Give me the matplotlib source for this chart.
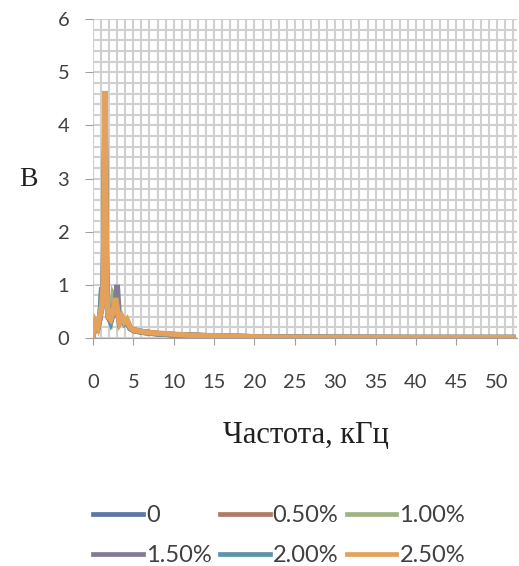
import numpy as np
import matplotlib.pyplot as plt
from matplotlib.lines import Line2D

# frequency grid, kHz
freq_khz = [0, 0.3, 0.6, 0.9, 1.1, 1.3, 1.5, 1.7, 1.9, 2.2, 2.5, 2.8, 3.0, 3.3, 3.6,
            3.9, 4.2, 4.6, 5.0, 6.0, 7.0, 8.0, 10.0, 12.0, 15.0, 20.0, 25.0, 30.0, 40.0, 52.0]

# amplitude, V, per concentration
s_0   = [0.05, 0.25, 0.2, 0.4, 0.95, 0.8, 3.6, 0.7, 0.4, 0.3, 0.45, 0.6, 0.5, 0.3, 0.35,
         0.28, 0.3, 0.18, 0.14, 0.11, 0.09, 0.08, 0.06, 0.05, 0.03, 0.02, 0.01, 0.008, 0.005, 0.005]
s_050 = [0.05, 0.22, 0.18, 0.38, 0.7, 0.85, 3.9, 0.75, 0.38, 0.32, 0.5, 0.65, 0.5, 0.28, 0.36,
         0.27, 0.32, 0.18, 0.14, 0.11, 0.09, 0.08, 0.06, 0.05, 0.03, 0.02, 0.01, 0.008, 0.005, 0.005]
s_100 = [0.05, 0.24, 0.2, 0.42, 0.75, 0.9, 4.1, 0.8, 0.45, 0.35, 0.8, 0.7, 0.55, 0.3, 0.38,
         0.28, 0.33, 0.19, 0.15, 0.12, 0.1, 0.08, 0.06, 0.05, 0.035, 0.02, 0.01, 0.008, 0.005, 0.005]
s_150 = [0.05, 0.23, 0.19, 0.4, 0.7, 0.85, 4.2, 0.8, 0.42, 0.33, 0.55, 0.7, 1.0, 0.32, 0.37,
         0.28, 0.32, 0.19, 0.15, 0.12, 0.1, 0.08, 0.06, 0.05, 0.035, 0.02, 0.01, 0.008, 0.005, 0.005]
s_200 = [0.05, 0.25, 0.2, 0.45, 0.9, 0.9, 4.4, 0.85, 0.5, 0.33, 0.5, 0.6, 0.65, 0.3, 0.36,
         0.28, 0.32, 0.19, 0.15, 0.12, 0.1, 0.08, 0.06, 0.05, 0.035, 0.02, 0.01, 0.008, 0.005, 0.005]
s_250 = [0.05, 0.3, 0.2, 0.45, 0.6, 1.0, 4.65, 0.9, 0.4, 0.35, 0.5, 0.75, 0.55, 0.3, 0.4,
         0.3, 0.35, 0.2, 0.15, 0.12, 0.1, 0.09, 0.07, 0.05, 0.04, 0.02, 0.01, 0.008, 0.005, 0.005]

series = [s_0, s_050, s_100, s_150, s_200, s_250]
names = ["0", "0.50%", "1.00%", "1.50%", "2.00%", "2.50%"]
colors = ["#5a78a6", "#b27a66", "#a3b483", "#857a95", "#5c93ab", "#e3a15c"]

x_ticks = list(range(0, 55, 5))
y_ticks = list(range(0, 7))

fig = plt.figure(figsize=(5.19, 5.66), dpi=100)
ax = fig.add_axes([0.179, 0.403, 0.817, 0.563])

for s, c, n in zip(series, colors, names):
    ax.plot(freq_khz, s, color=c, lw=4, label=n, solid_joinstyle="miter")

ax.set_xlim(0, 52.5)
ax.set_ylim(0, 6)
ax.set_xticks(x_ticks)
ax.set_yticks(y_ticks)
ax.set_xticks(np.arange(0, 53, 1), minor=True)
ax.set_yticks(np.arange(0, 6.01, 0.2), minor=True)
ax.grid(True, which="both", color="#d0d0d0", lw=1.5)
ax.set_axisbelow(True)
ax.tick_params(which="minor", length=0)

for sp in ["top", "right", "left"]:
    ax.spines[sp].set_visible(False)
ax.spines["bottom"].set_color("#a0a0a0")

ax.tick_params(axis="x", which="major", length=5, color="#a0a0a0", pad=21,
               labelsize=14.5, labelcolor="#404040")
ax.tick_params(axis="y", which="major", length=6, color="#a0a0a0", pad=11,
               labelsize=14.5, labelcolor="#404040")
for lab in ax.get_xticklabels() + ax.get_yticklabels():
    lab.set_fontfamily("Lato")

fig.text(0.59, 0.231, "Частота, кГц", family="Liberation Serif", fontsize=22,
         ha="center", va="center", color="#202020")
fig.text(0.055, 0.683, "В", family="Liberation Serif", fontsize=20,
         ha="center", va="center", color="#202020")

# legend reads row-wise: reorder for column-major fill
order = [0, 3, 1, 4, 2, 5]
handles = [Line2D([], [], color=colors[i], lw=3.4) for i in order]
leg = fig.legend(handles, [names[i] for i in order], ncol=3, loc="upper left",
                 bbox_to_anchor=(0.18, 0.107), frameon=False, handlelength=2.1,
                 handletextpad=0.13, columnspacing=0.35, labelspacing=0.8,
                 borderaxespad=0, borderpad=0, prop={"family": "Lato", "size": 17})
for t in leg.get_texts():
    t.set_color("#404040")

fig.savefig("out.png", dpi=100)
